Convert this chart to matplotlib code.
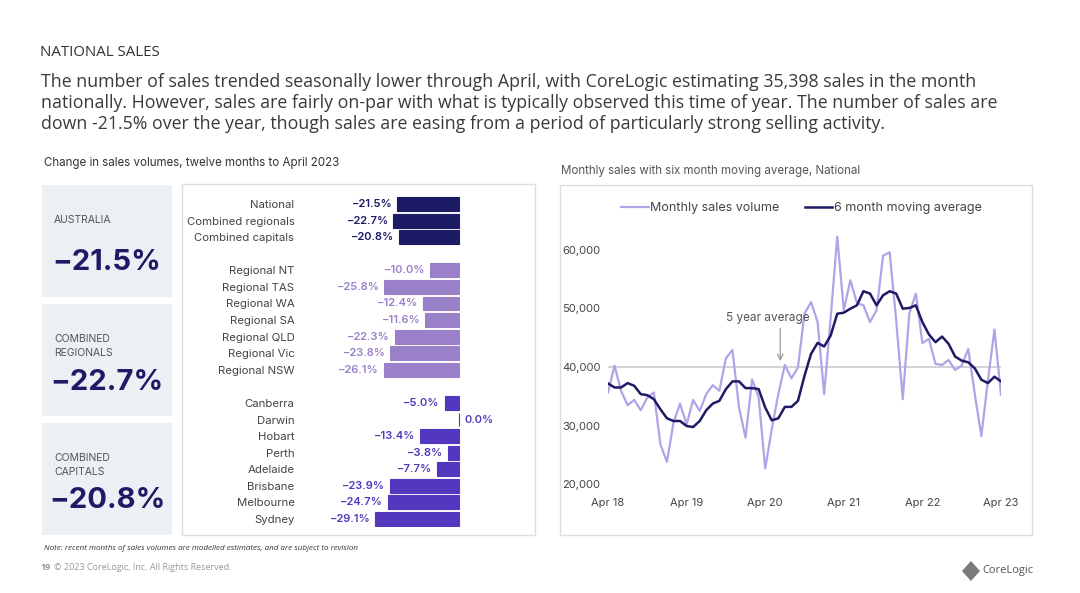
import matplotlib
matplotlib.use("Agg")
import matplotlib.pyplot as plt
from matplotlib.patches import Rectangle, Polygon

plt.rcParams['font.family'] = ['Inter', 'DejaVu Sans']

# ---- data ----
bar_labels = ["National", "Combined regionals", "Combined capitals",
              "Regional NT", "Regional TAS", "Regional WA", "Regional SA",
              "Regional QLD", "Regional Vic", "Regional NSW",
              "Canberra", "Darwin", "Hobart", "Perth", "Adelaide",
              "Brisbane", "Melbourne", "Sydney"]
bar_values = [-21.5, -22.7, -20.8,
              -10.0, -25.8, -12.4, -11.6, -22.3, -23.8, -26.1,
              -5.0, 0.0, -13.4, -3.8, -7.7, -23.9, -24.7, -29.1]
bar_groups = [0, 0, 0, 1, 1, 1, 1, 1, 1, 1, 2, 2, 2, 2, 2, 2, 2, 2]

box_titles = ["AUSTRALIA", "COMBINED\nREGIONALS", "COMBINED\nCAPITALS"]
box_values = [-21.5, -22.7, -20.8]

monthly_sales = [35650, 40230, 35900, 33470, 34380, 32600, 34800, 35650, 26760, 23780,
                 30490, 33750, 30200, 34380, 32490, 35360, 36900, 35930, 41490, 42920,
                 33070, 27910, 37880, 34780, 22640, 29340, 35360, 40340, 38050, 39940,
                 49110, 51120, 47680, 35360, 48500, 62290, 49690, 54840, 50950, 50540,
                 47680, 49690, 59030, 59600, 47970, 34500, 49110, 52550, 44070, 44810,
                 40520, 40340, 41200, 39480, 40230, 43090, 35360, 28190, 37650, 46420,
                 35240]
moving_avg = [37190, 36500, 36500, 37250, 36790, 35360, 35190, 34500, 32780, 31230,
              30770, 30770, 29910, 29740, 30770, 32610, 33750, 34210, 36220, 37540,
              37540, 36390, 36390, 36220, 33070, 30890, 31230, 33180, 33180, 34210,
              38510, 42240, 44130, 43500, 45390, 49110, 49280, 49970, 50540, 52950,
              52550, 50540, 52260, 52950, 52550, 49970, 50090, 50540, 47680, 45560,
              44240, 45200, 43950, 41780, 41090, 40800, 39770, 37820, 37250, 38340,
              37540]
five_year_avg = 40000
x_tick_pos = [0, 12, 24, 36, 48, 60]
x_tick_labels = ["Apr 18", "Apr 19", "Apr 20", "Apr 21", "Apr 22", "Apr 23"]
y_ticks = [20000, 30000, 40000, 50000, 60000]

W, H = 1080, 593
fig = plt.figure(figsize=(W / 100, H / 100), dpi=100)
fig.patch.set_facecolor("white")


def fx(x):
    return x / W


def fy(y):
    return 1 - y / H


def add_axes_px(x0, y0, x1, y1):
    return fig.add_axes([fx(x0), fy(y1), (x1 - x0) / W, (y1 - y0) / H])


navy = "#1d1a66"
lavender = "#9a80c8"
purple = "#5337bf"
text_gray = "#444444"

# ---- header ----
fig.text(fx(40), fy(53), "NATIONAL SALES", fontsize=10.8, color="#333333",
         va="center", family=["Open Sans", "DejaVu Sans"])
para = ("The number of sales trended seasonally lower through April, with CoreLogic estimating 35,398 sales in the month\n"
        "nationally. However, sales are fairly on-par with what is typically observed this time of year. The number of sales are\n"
        "down -21.5% over the year, though sales are easing from a period of particularly strong selling activity.")
fig.text(fx(41), fy(73), para, fontsize=12.8, color="#3a3a3a", va="top",
         linespacing=1.2, family=["Open Sans", "DejaVu Sans"])

fig.text(fx(44), fy(163), "Change in sales volumes, twelve months to April 2023",
         fontsize=8.3, color="#333333", va="center")
fig.text(fx(561), fy(171), "Monthly sales with six month moving average, National",
         fontsize=8.3, color="#555555", va="center")

# ---- left boxes ----
box_tops = [185, 304, 423]
for top, title, val in zip(box_tops, box_titles, box_values):
    fig.patches.append(Rectangle((fx(42), fy(top + 112)), 130 / W, 112 / H,
                                 transform=fig.transFigure, facecolor="#ecf0f4",
                                 edgecolor="none", zorder=-5))
    fig.text(fx(54), fy(top + 30), title, fontsize=7.5, color="#555555",
             va="top", linespacing=1.5)
    fig.text(fx(107), fy(top + 78), f"\u2212{abs(val):.1f}%", fontsize=21,
             fontweight="bold", color=navy, ha="center", va="center")

# ---- panels ----
for (x0, y0, x1, y1) in [(182, 184, 535, 535), (560, 185, 1032, 535)]:
    fig.patches.append(Rectangle((fx(x0), fy(y1)), (x1 - x0) / W, (y1 - y0) / H,
                                 transform=fig.transFigure, facecolor="white",
                                 edgecolor="#dddddd", linewidth=1, zorder=-5))

# ---- bar chart ----
slots = []
s = 0
prev = bar_groups[0]
for g in bar_groups:
    if g != prev:
        s += 1
        prev = g
    slots.append(s)
    s += 1

px_per_pct = 2.89
axb = add_axes_px(300, 195.7, 530, 527.3)
axb.set_xlim(-(459 - 300) / px_per_pct, (530 - 459) / px_per_pct)
axb.set_ylim(19.5, -0.5)
colors = [[navy, lavender, purple][g] for g in bar_groups]
axb.barh(slots, bar_values, height=0.84, color=colors, edgecolor=colors,
         linewidth=0.8)
for y, v, c in zip(slots, bar_values, colors):
    lab = f"\u2212{abs(v):.1f}%" if v < 0 else f"{v:.1f}%"
    if v < 0:
        axb.text(v - 1.6, y, lab, ha="right", va="center", fontsize=8,
                 fontweight="semibold", color=c)
    else:
        axb.text(v + 2.0, y, lab, ha="left", va="center", fontsize=8,
                 fontweight="semibold", color=c)
axb.set_yticks(slots)
axb.set_yticklabels(bar_labels, fontsize=8.2, color=text_gray)
axb.tick_params(axis="y", length=0, pad=4)
axb.set_xticks([])
for sp in axb.spines.values():
    sp.set_visible(False)
axb.patch.set_alpha(0)

# ---- line chart ----
ymin, ymax = 18000, 64000
px_per_10k = 58.5
y_bot = 484 + (20000 - ymin) / 10000 * px_per_10k
y_top = 250 - (ymax - 60000) / 10000 * px_per_10k
axl = add_axes_px(608, y_top, 1001, y_bot)
axl.set_xlim(0, 60)
axl.set_ylim(ymin, ymax)
months = list(range(len(monthly_sales)))
axl.axhline(five_year_avg, color="#cccccc", linewidth=1.2, zorder=1)
axl.plot(months, monthly_sales, color="#b3a2e8", linewidth=1.6,
         label="Monthly sales volume", zorder=2)
axl.plot(months, moving_avg, color=navy, linewidth=1.8,
         label="6 month moving average", zorder=3)
axl.text(24.4, 48400, "5 year average", ha="center", va="center",
         fontsize=8.5, color="#555555")
axl.annotate("", xy=(26.3, 41000), xytext=(26.3, 46600),
             arrowprops=dict(arrowstyle="->", color="#999999", lw=0.9,
                             shrinkA=0, shrinkB=0))
axl.set_xticks(x_tick_pos)
axl.set_xticklabels(x_tick_labels, fontsize=8, color=text_gray)
axl.set_yticks(y_ticks)
axl.set_yticklabels([f"{v:,}" for v in y_ticks], fontsize=8, color=text_gray)
for lab in axl.get_yticklabels():
    lab.set_ha("left")
axl.tick_params(axis="y", length=0, pad=33)
axl.tick_params(axis="x", length=0, pad=2)
for sp in axl.spines.values():
    sp.set_visible(False)
axl.patch.set_alpha(0)
axl.legend(loc="upper left", bbox_to_anchor=(fx(621), fy(202)),
           bbox_transform=fig.transFigure, ncol=2, frameon=False,
           fontsize=9, labelcolor="#444444", handlelength=2.2,
           handletextpad=0.15, columnspacing=2.0, borderaxespad=0,
           borderpad=0)

# ---- footer ----
fig.text(fx(44), fy(548), "Note: recent months of sales volumes are modelled estimates, and are subject to revision",
         fontsize=5.8, style="italic", color="#333333", va="center",
         family=["Open Sans", "DejaVu Sans"])
fig.text(fx(40), fy(568), "19", fontsize=6.5, fontweight="bold", color="#999999",
         va="center", family=["Open Sans", "DejaVu Sans"])
fig.text(fx(54), fy(568), "\u00a9 2023 CoreLogic, Inc. All Rights Reserved.", fontsize=6.5,
         color="#999999", va="center", family=["Open Sans", "DejaVu Sans"])
logo = Polygon([(fx(962), fy(571)), (fx(971), fy(561)), (fx(980), fy(571)),
                (fx(971), fy(581))], closed=True, transform=fig.transFigure,
               facecolor="#7a7a7a", edgecolor="none")
fig.patches.append(logo)
fig.text(fx(982), fy(571), "CoreLogic", fontsize=8, color="#555555", va="center",
         family=["Open Sans", "DejaVu Sans"])

fig.savefig("out.png", dpi=100, facecolor="white")
